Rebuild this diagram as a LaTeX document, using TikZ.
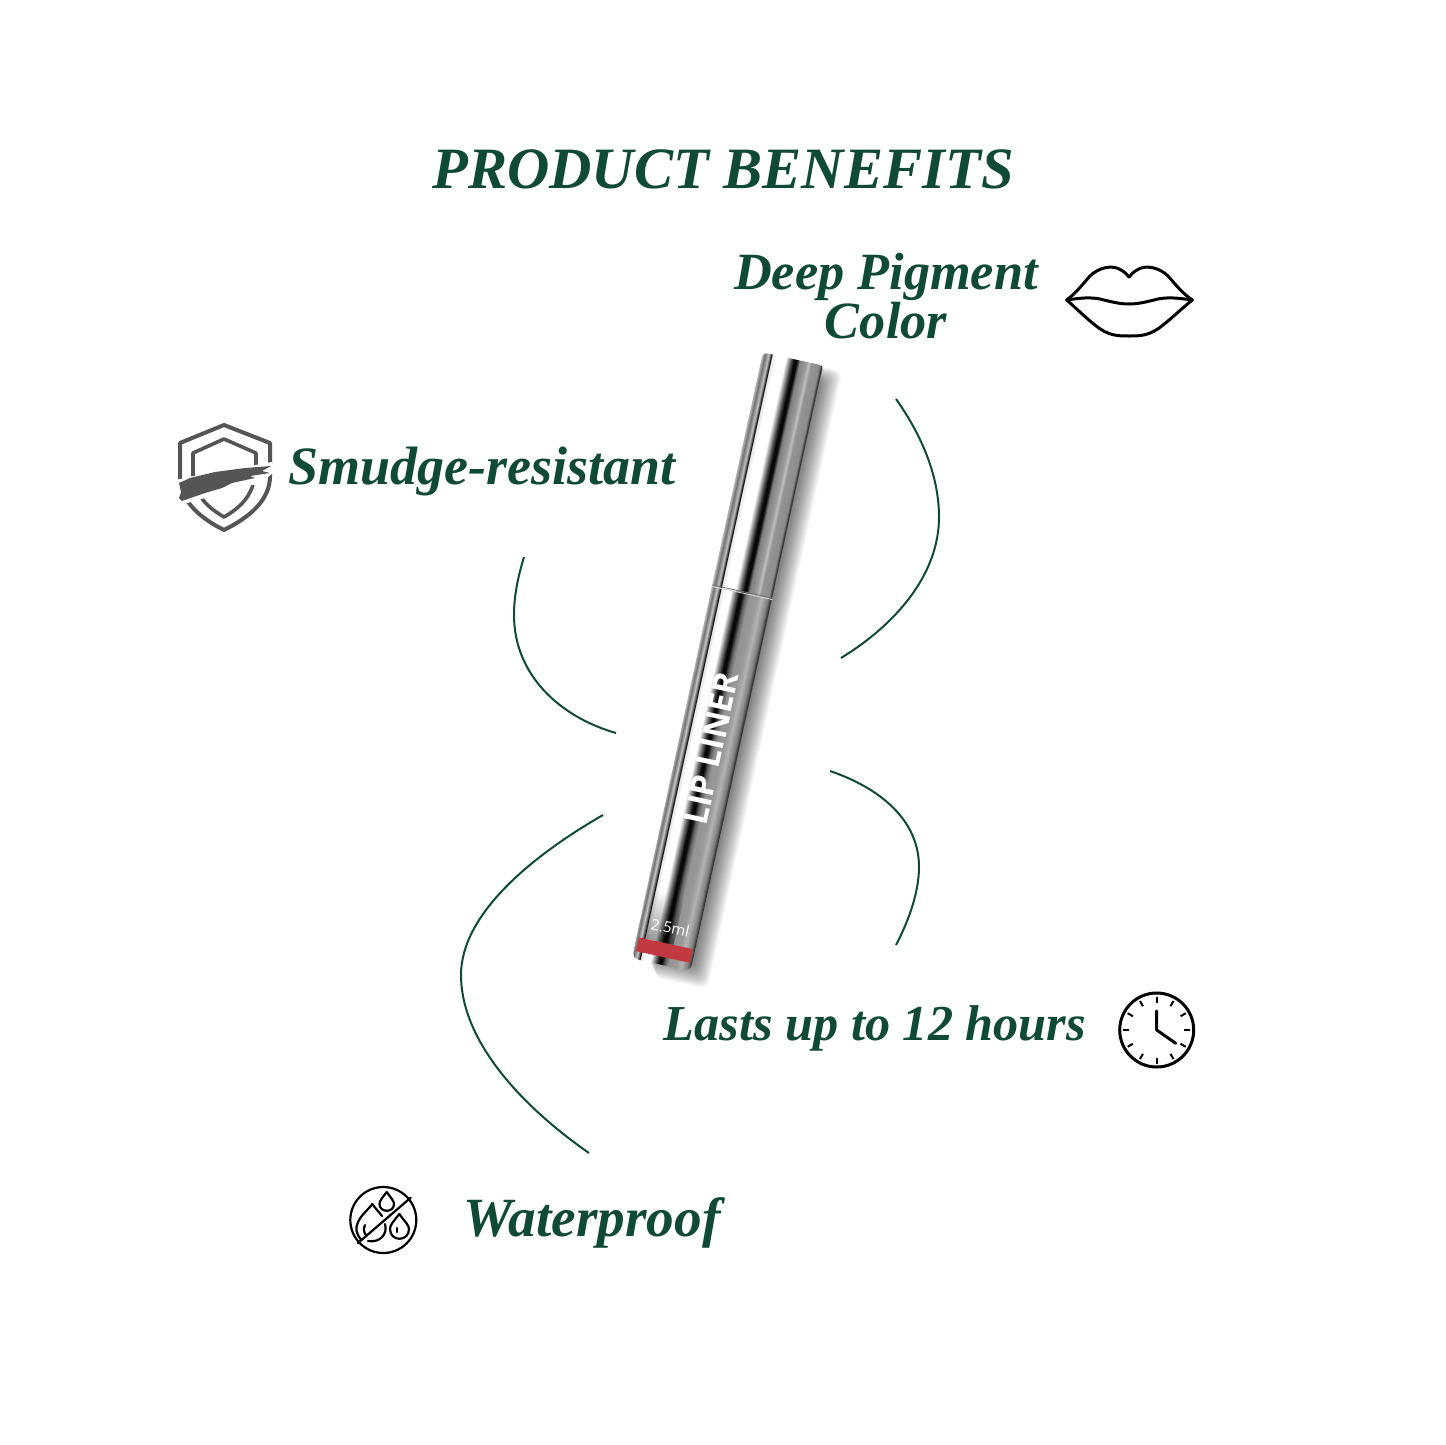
\documentclass[tikz,border=0pt]{standalone}
\usepackage{fontspec}
\setmainfont{Liberation Serif}
\newfontfamily\tubefont{Open Sans}
\usetikzlibrary{fadings}
\definecolor{benefitgreen}{HTML}{0F4A37}
\definecolor{shieldgray}{HTML}{555555}
\definecolor{linerred}{HTML}{C23A40}
\pgfdeclarehorizontalshading{uppermetal}{100bp}{color(0bp)=(black!30);color(25bp)=(black!30);color(27bp)=(black!55);color(30bp)=(black!25);color(31.5bp)=(black!70);color(32.2bp)=(black!95);color(33bp)=(black!10);color(36bp)=(white);color(44bp)=(white);color(49bp)=(black!75);color(51bp)=(black!97);color(53bp)=(black!97);color(55.5bp)=(black!50);color(61bp)=(black!38);color(63bp)=(black!25);color(65bp)=(black!42);color(71.5bp)=(black!45);color(73.5bp)=(black!80);color(75bp)=(black!30);color(100bp)=(black!30)}
\pgfdeclarehorizontalshading{lowermetal}{100bp}{color(0bp)=(black!30);color(25bp)=(black!30);color(27bp)=(black!55);color(29.5bp)=(black!22);color(31.5bp)=(black!70);color(32.2bp)=(black!95);color(33bp)=(black!10);color(36bp)=(white);color(41bp)=(white);color(45bp)=(black!60);color(48bp)=(black!97);color(50bp)=(black!97);color(53bp)=(black!60);color(56bp)=(black!42);color(62bp)=(black!40);color(66bp)=(black!30);color(71bp)=(black!50);color(73.5bp)=(black!80);color(75bp)=(black!30);color(100bp)=(black!30)}
\tikzset{
  benefit/.style={text=benefitgreen,font=\fontsize{54}{49}\selectfont\bfseries\itshape,align=center,inner sep=0pt,anchor=base},
  swirl/.style={draw=benefitgreen,line width=2pt},
  iconline/.style={draw=black,line width=3pt,line cap=round,line join=round}
}
\begin{document}
\begin{tikzpicture}[x=1pt,y=-1pt]
\useasboundingbox[fill=white] (0,0) rectangle (1445,1445);
\node[benefit,font=\fontsize{58.6}{60}\selectfont\bfseries\itshape] (title) at (723,188) {PRODUCT BENEFITS};
\node[benefit,font=\fontsize{52.3}{49}\selectfont\bfseries\itshape] (deep) at (886,338) {Deep Pigment\\Color};
\node[benefit] (smudge) at (482,484) {Smudge-resistant};
\node[benefit,font=\fontsize{50.3}{49}\selectfont\bfseries\itshape] (lasts) at (875,1040) {Lasts up to 12 hours};
\node[benefit,font=\fontsize{55.3}{49}\selectfont\bfseries\itshape] (water) at (592,1236) {Waterproof};
% swirls
\coordinate (d1) at (896,399);
\coordinate (d2) at (939,517);
\coordinate (d3) at (841,658);
\coordinate (s1) at (524,557);
\coordinate (s2) at (514,615);
\coordinate (s3) at (616,733);
\coordinate (w1) at (603,815);
\coordinate (w2) at (461,975);
\coordinate (w3) at (589,1153);
\coordinate (l1) at (830,771);
\coordinate (l2) at (919,867);
\coordinate (l3) at (896,945);
\draw[swirl] (d1) .. controls (925,440) and (939,480) .. (d2) .. controls (939,575) and (895,625) .. (d3);
\draw[swirl] (s1) .. controls (517,580) and (514,598) .. (s2) .. controls (514,675) and (560,717) .. (s3);
\draw[swirl] (w1) .. controls (530,857) and (461,915) .. (w2) .. controls (461,1040) and (520,1105) .. (w3);
\draw[swirl] (l1) .. controls (880,788) and (919,820) .. (l2) .. controls (919,893) and (908,922) .. (l3);
% tube
\begin{scope}[transform canvas={shift={(793,360)},rotate=-12.3}]
\foreach \k in {1,...,26}
  \fill[black,opacity=.022,rounded corners=8pt] (-20+.6*\k,16-.6*\k) rectangle (30+.8*\k,612+.8*\k);
\shade[shading=uppermetal] (-31,3) .. controls (-31,0) and (-29,-1) .. (-26,-1) -- (26,-1) .. controls (29,-1) and (31,0) .. (31,3) -- (31,238) -- (-31,238) -- cycle;
\shade[shading=lowermetal] (-31,238) -- (31,238) -- (30,612) .. controls (30,617) and (26,619) .. (22,619) -- (-22,619) .. controls (-26,619) and (-30,617) .. (-30,612) -- cycle;
\fill[black,opacity=.4,path fading=north] (-21,545) rectangle (8,597);
\draw[black!55,line width=.8pt] (-31,237) -- (31,237);
\draw[white!85!black,line width=.8pt] (-31,238.5) -- (31,238.5);
\fill[linerred] (-27.5,597) rectangle (27.5,611);
\node[text=white,font=\tubefont\bfseries\fontsize{33}{33}\selectfont,rotate=90,inner sep=0pt] (lip) at (3,397) {LIP LINER};
\node[text=white,font=\tubefont\fontsize{15}{15}\selectfont,inner sep=0pt] (vol) at (1,581) {2.5ml};
\end{scope}
% lips
\draw[iconline] (1066.7,300) .. controls (1076,293) and (1082,285) .. (1090,276) .. controls (1098,268) and (1112,264) .. (1121,270) .. controls (1125,272) and (1127,275) .. (1129,277) .. controls (1131,275) and (1133,272) .. (1137,270) .. controls (1146,264) and (1160,268) .. (1168,276) .. controls (1176,285) and (1182,293) .. (1192.3,300) .. controls (1180,310) and (1172,318) .. (1163,325) .. controls (1150,336) and (1140,336) .. (1129,336) .. controls (1118,336) and (1108,336) .. (1095,325) .. controls (1086,318) and (1078,310) .. (1066.7,300) -- cycle;
\draw[iconline] (1066.7,300) .. controls (1080,298) and (1090,297) .. (1100,299) .. controls (1112,302) and (1120,304) .. (1129,304) .. controls (1138,304) and (1146,302) .. (1158,299) .. controls (1168,297) and (1178,298) .. (1192.3,300);
% shield
\draw[draw=shieldgray,line width=4pt,line join=round] (224,425) -- (270,443) -- (270,476) .. controls (270,500) and (250,517) .. (224,530) .. controls (198,517) and (180,500) .. (180,476) -- (180,443) -- cycle;
\draw[draw=shieldgray,line width=3.6pt,line join=round] (193,476) -- (193,453) -- (224,439) -- (256,453) -- (256,476);
\draw[draw=shieldgray,line width=3.6pt,line join=round] (253,485) .. controls (248,500) and (238,509) .. (224,517) .. controls (214,511) and (206,505) .. (201,497);
\fill[white] (175,480) -- (272,462) -- (274,472) -- (262,482) -- (180,505) -- cycle;
\fill[shieldgray] (179,483) -- (190,478) -- (215,472) -- (245,468) -- (271,466) -- (262,471) -- (270,473) -- (250,476) -- (255,478) -- (232,483) -- (222,488) -- (205,493) -- (182,501) -- (179,498) -- (181,492) -- cycle;
% drops
\draw[iconline,line width=2.2pt] (383.3,1220) circle (33);
\draw[iconline,line width=2.2pt] (410.7,1197.7) -- (358,1243);
\draw[iconline,line width=2.2pt] (386.7,1192) .. controls (382,1198) and (379.5,1201) .. (379.5,1204) .. controls (379.5,1213) and (394,1213) .. (394,1204) .. controls (394,1201) and (391,1198) .. (386.7,1192) -- cycle;
\draw[iconline,line width=2.2pt] (399.3,1214) .. controls (393,1222) and (390,1225) .. (390,1229) .. controls (390,1242) and (409,1242) .. (409,1229) .. controls (409,1225) and (405,1222) .. (399.3,1214) -- cycle;
\draw[iconline,line width=2.2pt] (361.5,1240) .. controls (356,1234) and (355,1228) .. (358,1222) .. controls (361,1215) and (368,1210) .. (372.3,1204) .. controls (375,1208) and (379,1212) .. (382,1216);
\draw[iconline,line width=2.2pt] (385,1224) .. controls (388,1234) and (380,1243) .. (368,1241);
\draw[iconline,line width=2.2pt] (365,1225) .. controls (363,1229) and (364,1233) .. (366,1235);
\draw[iconline,line width=2.2pt] (397,1228) -- (397,1232);
% clock
\draw[iconline] (1156.7,1030) circle (37);
\foreach \a in {0,30,...,330}
  \draw[iconline,line width=2pt,line cap=butt] (1156.7,1030) ++(\a:27.5) -- ++(\a:6);
\draw[iconline] (1156.7,1011) -- (1156.7,1030) -- (1175.7,1043.3);
\end{tikzpicture}
\end{document}
